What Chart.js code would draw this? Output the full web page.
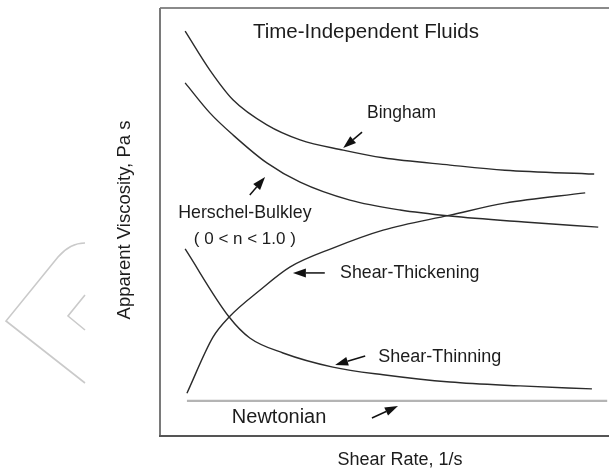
<!DOCTYPE html>
<html>
<head>
<meta charset="utf-8">
<script src="https://cdn.jsdelivr.net/npm/chart.js@4"></script>
<style>
  body { margin: 0; background: #fff; }
  #wrap { width: 609px; height: 470px; }
</style>
</head>
<body>
<div id="wrap"><canvas id="myChart" width="609" height="470"></canvas></div>
<script>
// curves (x: shear rate, y: apparent viscosity, both 0-100 arbitrary)
const binghamX = [5.6, 11.1, 16.3, 23.8, 31.2, 40.8, 49.7, 64.6, 76.8, 96.7];
const binghamY = [94.6, 85.5, 78.5, 72.7, 69.2, 66.8, 65.0, 63.3, 62.1, 61.2];

const herschelX = [5.6, 11.1, 16.3, 23.8, 31.2, 42.3, 53.5, 64.6, 81.1, 97.6];
const herschelY = [82.5, 75.5, 70.3, 63.8, 59.3, 55.1, 52.8, 51.4, 50.0, 48.8];

const thickX = [6.0, 11.8, 15.4, 22.3, 29.0, 38.5, 49.7, 64.6, 76.8, 94.7];
const thickY = [10.0, 23.1, 27.8, 34.1, 39.5, 43.9, 48.1, 51.6, 54.4, 56.8];

const thinX = [5.6, 15.4, 20.0, 27.4, 38.5, 49.7, 64.6, 80.2, 96.2];
const thinY = [43.7, 27.8, 22.9, 19.4, 16.1, 14.3, 12.6, 11.7, 11.0];

const newtonX = [6.0, 99.6];
const newtonY = [8.2, 8.2];

// annotation labels: text, x, y, anchor, font size
const labelText = ['Time-Independent Fluids', 'Bingham', 'Herschel-Bulkley', '( 0 < n < 1.0 )', 'Shear-Thickening', 'Shear-Thinning', 'Newtonian'];
const labelX = [20.7, 46.1, 18.9, 18.9, 40.1, 48.6, 16.0];
const labelY = [94.2, 75.5, 52.1, 46.0, 38.1, 18.5, 4.4];
const labelAlign = ['left', 'left', 'center', 'center', 'left', 'left', 'left'];
const labelSize = [20.5, 17.5, 17.8, 17, 17.8, 18, 20];

// arrows: tail -> head
const arrowTailX = [45.0, 20.0, 36.7, 45.7, 47.2];
const arrowTailY = [71.0, 56.3, 38.1, 18.7, 4.2];
const arrowHeadX = [40.8, 23.4, 29.6, 39.0, 53.0];
const arrowHeadY = [67.3, 60.5, 38.1, 16.6, 7.0];

const FONT = '"Liberation Sans", Arial, sans-serif';

function pts(xs, ys) {
    return xs.map((x, i) => ({x: x, y: ys[i]}));
}

function curve(label, xs, ys) {
    return {
        label: label,
        data: pts(xs, ys),
        borderColor: '#2b2b2b',
        borderWidth: 1.4,
        pointRadius: 0,
        cubicInterpolationMode: 'monotone',
        fill: false
    };
}

const decor = {
    id: 'decor',
    beforeDraw(chart) {
        const ctx = chart.ctx;
        ctx.save();
        // faint chevron from the page behind the figure
        ctx.strokeStyle = '#cacaca';
        ctx.lineWidth = 1.6;
        ctx.beginPath();
        ctx.moveTo(85, 243);
        ctx.quadraticCurveTo(70, 243, 58, 257);
        ctx.lineTo(6, 321);
        ctx.lineTo(85, 383);
        ctx.moveTo(85, 295);
        ctx.lineTo(68, 316);
        ctx.lineTo(85, 330);
        ctx.stroke();
        ctx.restore();
    },
    afterDatasetsDraw(chart) {
        const ctx = chart.ctx;
        const a = chart.chartArea;
        const xs = chart.scales.x, ys = chart.scales.y;
        ctx.save();
        // frame
        ctx.lineWidth = 2;
        ctx.strokeStyle = '#8a8a8a';
        ctx.beginPath();
        ctx.moveTo(a.left, a.top);
        ctx.lineTo(a.right, a.top);
        ctx.stroke();
        ctx.strokeStyle = '#7a7a7a';
        ctx.beginPath();
        ctx.moveTo(a.left, a.top);
        ctx.lineTo(a.left, a.bottom);
        ctx.stroke();
        ctx.strokeStyle = '#555';
        ctx.beginPath();
        ctx.moveTo(a.left - 1, a.bottom);
        ctx.lineTo(a.right, a.bottom);
        ctx.stroke();

        // arrows
        ctx.fillStyle = '#111';
        ctx.strokeStyle = '#111';
        for (let i = 0; i < arrowTailX.length; i++) {
            const x0 = xs.getPixelForValue(arrowTailX[i]), y0 = ys.getPixelForValue(arrowTailY[i]);
            const x1 = xs.getPixelForValue(arrowHeadX[i]), y1 = ys.getPixelForValue(arrowHeadY[i]);
            const ang = Math.atan2(y1 - y0, x1 - x0);
            const len = 13, half = 4.5;
            const bx = x1 - len * Math.cos(ang), by = y1 - len * Math.sin(ang);
            ctx.lineWidth = 1.5;
            ctx.beginPath();
            ctx.moveTo(x0, y0);
            ctx.lineTo(bx, by);
            ctx.stroke();
            ctx.beginPath();
            ctx.moveTo(x1, y1);
            ctx.lineTo(bx + half * Math.sin(ang), by - half * Math.cos(ang));
            ctx.lineTo(bx - half * Math.sin(ang), by + half * Math.cos(ang));
            ctx.closePath();
            ctx.fill();
        }

        // labels
        ctx.fillStyle = '#1c1c1c';
        ctx.textBaseline = 'middle';
        for (let i = 0; i < labelText.length; i++) {
            ctx.font = labelSize[i] + 'px ' + FONT;
            ctx.textAlign = labelAlign[i];
            ctx.fillText(labelText[i], xs.getPixelForValue(labelX[i]), ys.getPixelForValue(labelY[i]));
        }

        // axis titles
        ctx.font = '18px ' + FONT;
        ctx.textAlign = 'center';
        ctx.fillText('Shear Rate, 1/s', 400, a.bottom + 24);
        ctx.translate(125, 220);
        ctx.rotate(-Math.PI / 2);
        ctx.font = '18.5px ' + FONT;
        ctx.fillText('Apparent Viscosity, Pa s', 0, 0);
        ctx.restore();
    }
};

const newton = curve('Newtonian', newtonX, newtonY);
newton.borderColor = '#b4b4b4';
newton.borderWidth = 2.2;

const config = {
    type: 'line',
    data: {
        datasets: [
            curve('Bingham', binghamX, binghamY),
            curve('Herschel-Bulkley', herschelX, herschelY),
            curve('Shear-Thickening', thickX, thickY),
            curve('Shear-Thinning', thinX, thinY),
            newton
        ]
    },
    options: {
        responsive: false,
        animation: false,
        layout: { padding: { left: 160, top: 8, right: 0, bottom: 34 } },
        plugins: { legend: { display: false }, tooltip: { enabled: false } },
        scales: {
            x: { type: 'linear', min: 0, max: 100, display: false },
            y: { type: 'linear', min: 0, max: 100, display: false }
        }
    },
    plugins: [decor]
};

new Chart(document.getElementById('myChart'), config);
</script>
</body>
</html>
